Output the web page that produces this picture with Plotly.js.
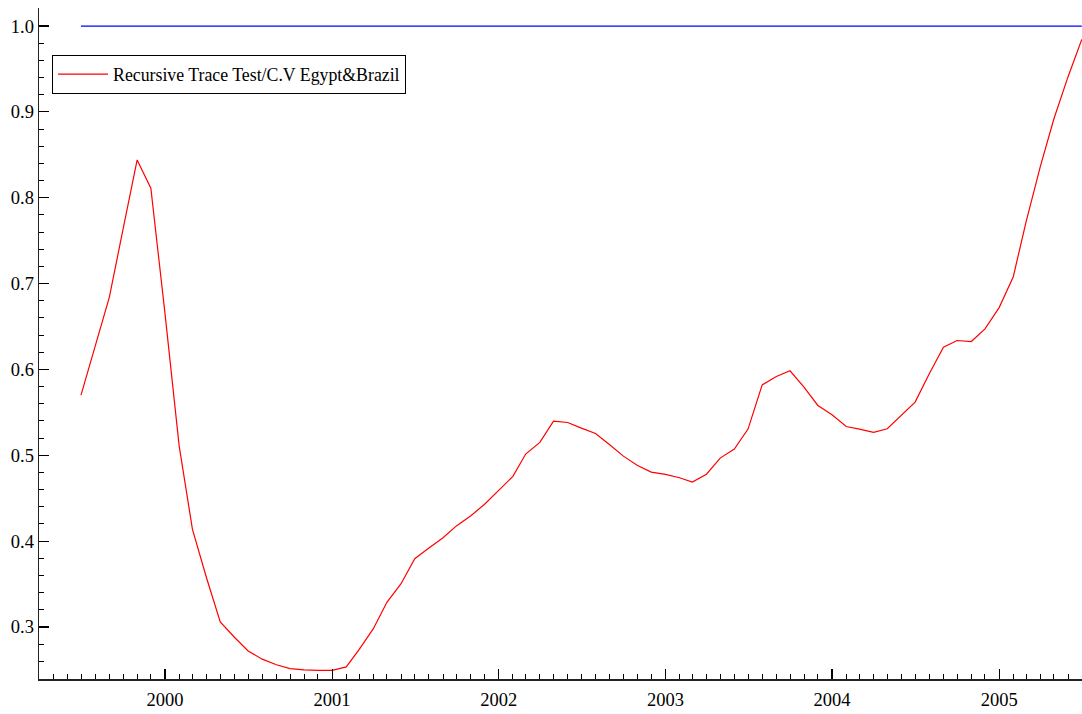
<!DOCTYPE html>
<html>
<head>
<meta charset="utf-8">
<script src="https://cdn.plot.ly/plotly-3.0.1.min.js"></script>
<style>
  html, body { margin: 0; padding: 0; background: #ffffff; }
  #chart { width: 1082px; height: 714px; }
</style>
</head>
<body>
<div id="chart"></div>
<script>
// Monthly observation dates (first of month)
const months = [
  '1999-07-01','1999-08-01','1999-09-01','1999-10-01','1999-11-01','1999-12-01',
  '2000-01-01','2000-02-01','2000-03-01','2000-04-01','2000-05-01','2000-06-01',
  '2000-07-01','2000-08-01','2000-09-01','2000-10-01','2000-11-01','2000-12-01',
  '2001-01-01','2001-02-01','2001-03-01','2001-04-01','2001-05-01','2001-06-01',
  '2001-07-01','2001-08-01','2001-09-01','2001-10-01','2001-11-01','2001-12-01',
  '2002-01-01','2002-02-01','2002-03-01','2002-04-01','2002-05-01','2002-06-01',
  '2002-07-01','2002-08-01','2002-09-01','2002-10-01','2002-11-01','2002-12-01',
  '2003-01-01','2003-02-01','2003-03-01','2003-04-01','2003-05-01','2003-06-01',
  '2003-07-01','2003-08-01','2003-09-01','2003-10-01','2003-11-01','2003-12-01',
  '2004-01-01','2004-02-01','2004-03-01','2004-04-01','2004-05-01','2004-06-01',
  '2004-07-01','2004-08-01','2004-09-01','2004-10-01','2004-11-01','2004-12-01',
  '2005-01-01','2005-02-01','2005-03-01','2005-04-01','2005-05-01','2005-06-01',
  '2005-07-01'
];

// Recursive trace test statistic (scaled by critical value)
const traceTest = [
  0.570, 0.628, 0.684, 0.763, 0.844, 0.811,
  0.665, 0.511, 0.414, 0.357, 0.306, 0.288,
  0.272, 0.2625, 0.256, 0.2515, 0.250, 0.2495,
  0.2495, 0.2535, 0.2736, 0.2977, 0.3287, 0.3504,
  0.3795, 0.392, 0.404, 0.418, 0.4296, 0.443,
  0.4587, 0.4754, 0.5014, 0.515, 0.5398, 0.5382,
  0.5316, 0.5254, 0.5122, 0.499, 0.4881, 0.4804,
  0.4777, 0.4738, 0.4688, 0.478, 0.4967, 0.5072,
  0.5305, 0.582, 0.5917, 0.5984, 0.579, 0.558,
  0.5471, 0.5335, 0.5305, 0.5266, 0.5309, 0.5471,
  0.5619, 0.5949, 0.626, 0.6337, 0.6325, 0.6473,
  0.672, 0.708, 0.772, 0.836, 0.892, 0.941,
  0.9845
];

// Critical value reference line (normalised to 1)
const criticalLevel = [1.0, 1.0];
const criticalDates = [months[0], months[months.length - 1]];

const seriesName = 'Recursive Trace Test/C.V Egypt&Brazil';
const yTickVals = [0.3, 0.4, 0.5, 0.6, 0.7, 0.8, 0.9, 1.0];
const yTickText = ['0.3', '0.4', '0.5', '0.6', '0.7', '0.8', '0.9', '1.0'];

const FONT = '"Liberation Serif", "Times New Roman", serif';

const traces = [
  {
    x: months, y: traceTest, type: 'scatter', mode: 'lines',
    name: seriesName,
    line: { color: '#ff0000', width: 1.2 },
    showlegend: true
  },
  {
    x: criticalDates, y: criticalLevel, type: 'scatter', mode: 'lines',
    name: 'C.V',
    line: { color: '#0000ff', width: 1.2 },
    showlegend: false
  }
];

const layout = {
  width: 1082, height: 714,
  paper_bgcolor: '#ffffff', plot_bgcolor: '#ffffff',
  margin: { l: 39, r: 0, t: 8, b: 35, pad: 0 },
  font: { family: FONT, size: 18.5, color: '#000000' },
  showlegend: true,
  legend: {
    x: 0.0125, y: 0.930, xanchor: 'left', yanchor: 'top',
    bgcolor: '#ffffff', bordercolor: '#000000', borderwidth: 1,
    font: { family: FONT, size: 17.8, color: '#000000' },
    itemwidth: 50,
    tracegroupgap: 0
  },
  xaxis: {
    type: 'date',
    range: ['1999-03-31', '2005-07-01 12:00'],
    tick0: '2000-01-01', dtick: 'M12', tickformat: '%Y',
    ticks: 'inside', ticklen: 10, tickwidth: 1.2, tickcolor: '#000000',
    minor: { dtick: 'M1', ticks: 'inside', ticklen: 5, tickwidth: 1, tickcolor: '#000000', showgrid: false },
    showgrid: false, zeroline: false,
    showline: true, linecolor: '#222222', linewidth: 2,
    tickfont: { family: FONT, size: 18.5, color: '#000000' },
    ticklabelstandoff: 3,
    fixedrange: true
  },
  yaxis: {
    range: [0.2394, 1.021],
    tickvals: yTickVals, ticktext: yTickText,
    ticks: 'inside', ticklen: 10, tickwidth: 1.2, tickcolor: '#000000',
    minor: { dtick: 0.02, tick0: 0.3, ticks: 'inside', ticklen: 5, tickwidth: 1, tickcolor: '#000000', showgrid: false },
    showgrid: false, zeroline: false,
    showline: true, linecolor: '#222222', linewidth: 1.4,
    tickfont: { family: FONT, size: 18.5, color: '#000000' },
    fixedrange: true
  }
};

Plotly.newPlot('chart', traces, layout, { displayModeBar: false, staticPlot: true });
</script>
</body>
</html>
